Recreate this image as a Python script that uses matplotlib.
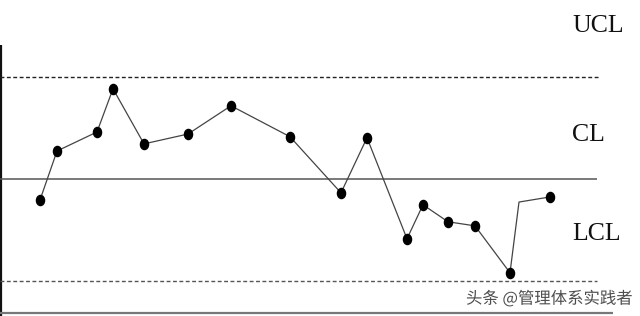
import matplotlib
matplotlib.use('Agg')
import matplotlib.pyplot as plt
import matplotlib.patheffects as pe
from matplotlib.path import Path
from matplotlib.transforms import Affine2D

# Control chart values, y in sigma units around the centre line.
cl = 0.0
ucl = 3.0
lcl = -3.0
sample_x = [4.0, 5.7, 9.7, 11.3, 14.4, 18.8, 23.1, 29.0, 34.1, 36.7,
            40.7, 42.3, 44.8, 47.5, 51.0, 51.9, 55.0]
sample_y = [-0.62, 0.82, 1.38, 2.65, 1.03, 1.32, 2.15, 1.24, -0.41, 1.21,
            -1.76, -0.76, -1.26, -1.38, -2.76, -0.68, -0.53]
# the point at index 15 is only a bend in the line, no dot drawn there
dot_index = [i for i in range(len(sample_x)) if i != 15]
labels = ['UCL', 'CL', 'LCL']
label_y = [4.5, 1.29, -1.62]
watermark = '头条 @管理体系实践者'

fig = plt.figure(figsize=(6.4, 3.16), dpi=100)
ax = fig.add_axes([0, 0, 1, 1])
ax.set_xlim(0, 64)
ax.set_ylim(-4.03, 5.26)
ax.axis('off')

# Frame: left axis and bottom line.
ax.vlines(0.12, -4.2, 3.94, color='#111111', lw=1.6)
ax.hlines(-3.94, 0, 61.3, color='#777777', lw=1.6)

# Limit lines.
ax.hlines(ucl, 0, 59.8, color='#222222', lw=1.0, linestyles=(0, (2.8, 1.8)))
ax.hlines(cl, 0, 59.7, color='#555555', lw=1.1)
ax.hlines(lcl, 0, 59.7, color='#555555', lw=1.0, linestyles=(0, (2.8, 1.8)))

# Slightly tall elliptical dots.
dot = Path.unit_circle().transformed(Affine2D().scale(0.8, 1.0))
ax.plot(sample_x, sample_y, color='#444444', lw=0.9,
        marker=dot, markersize=7.3, markerfacecolor='black',
        markeredgecolor='black', markevery=dot_index)

for text, y in zip(labels, label_y):
    ax.text(57.2, y, text, family='Liberation Serif', fontsize=18.5,
            color='#111111', ha='left', va='center')

ax.text(46.6, -3.53, watermark, family=['Noto Sans CJK SC', 'DejaVu Sans'],
        fontsize=11.8, color='#4d4d4d', ha='left', va='center',
        path_effects=[pe.withStroke(linewidth=2.5, foreground='white')])

fig.savefig('out.png', dpi=100)
